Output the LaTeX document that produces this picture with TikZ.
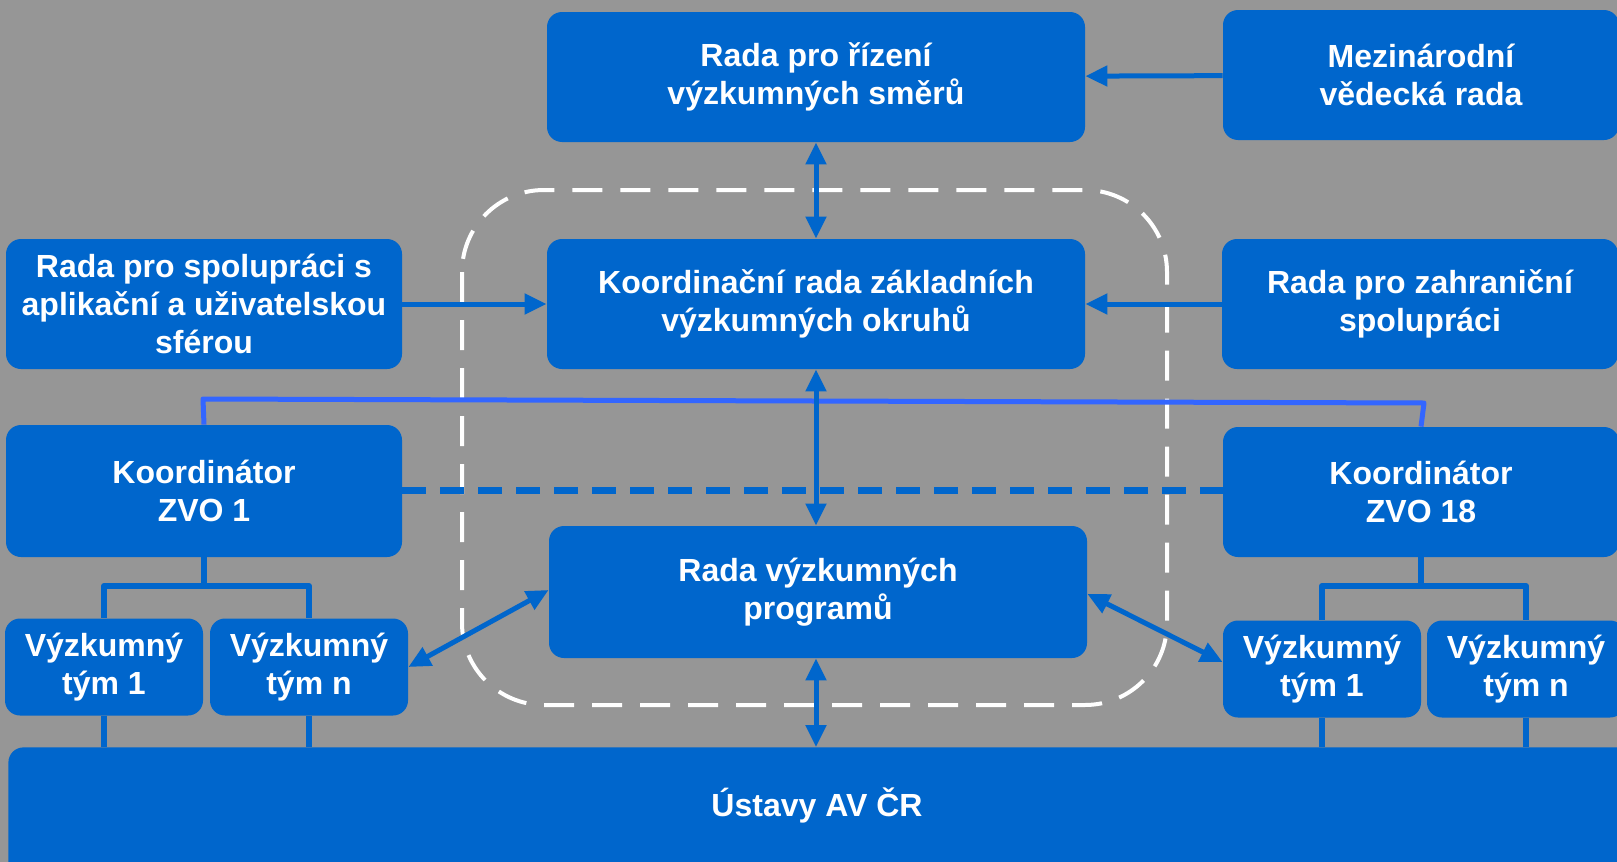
\documentclass[tikz,border=0pt]{standalone}
\usepackage{fontspec}
\setmainfont{Liberation Sans}
\usetikzlibrary{arrows.meta}
\definecolor{boxblue}{HTML}{0066CC}
\definecolor{lineblue}{HTML}{3366FF}
\definecolor{bggray}{HTML}{969696}
\begin{document}
\begin{tikzpicture}[x=0.5pt,y=-0.5pt,line join=round,
 box/.style={fill=boxblue,rounded corners=7.5pt,text=white,align=center,inner sep=0pt,
  font=\fontsize{16pt}{19pt}\selectfont\bfseries},
 wide/.style={box,minimum width=269pt,minimum height=65pt},
 side/.style={box,minimum width=198pt,minimum height=65pt},
 team/.style={box,minimum width=99pt,minimum height=48.5pt},
 conn/.style={boxblue,line width=2.5pt},
 tip/.style={-{Triangle[length=11pt,width=10pt]}},
 both/.style={{Triangle[length=11pt,width=10pt]}-{Triangle[length=11pt,width=10pt]}}]
 \useasboundingbox (0,0) rectangle (1617,862);
 \fill[bggray] (0,0) rectangle (1617,862);
 \draw[white,line width=2pt,dash pattern=on 15pt off 9pt,rounded corners=41pt] (462,190) rectangle (1167,705);
 \node[wide] (rizeni) at (816,77) {Rada pro řízení\\výzkumných směrů};
 \node[side] (mezi) at (1421,75) {Mezinárodní\\vědecká rada};
 \node[side] (spoluprace) at (204,304) {Rada pro spolupráci s\\aplikační a uživatelskou\\sférou};
 \node[wide] (koord) at (816,304) {Koordinační rada základních\\výzkumných okruhů};
 \node[side] (zahranici) at (1420,304) {Rada pro zahraniční\\spolupráci};
 \node[side,minimum height=66pt] (zvo1) at (204,491) {Koordinátor\\ZVO 1};
 \node[side] (zvo18) at (1421,492) {Koordinátor\\ZVO 18};
 \node[wide,minimum height=66pt] (programy) at (818,592) {Rada výzkumných\\programů};
 \node[team] (tym1L) at (104,667) {Výzkumný\\tým 1};
 \node[team] (tymnL) at (309,667) {Výzkumný\\tým n};
 \node[team] (tym1R) at (1322,669) {Výzkumný\\tým 1};
 \node[team] (tymnR) at (1526,669) {Výzkumný\\tým n};
 \node[box,minimum width=816pt,minimum height=66pt,anchor=north west] (ustavy) at (8,747) {};
 \node[text=white,font=\fontsize{16pt}{19pt}\selectfont\bfseries] (ustavytxt) at (817,805) {Ústavy AV ČR};
 \draw[lineblue,line width=2.5pt] (zvo1.north) -- (203,399) -- (1424,403) -- (zvo18.north);
 \draw[conn,line width=3.5pt,dash pattern=on 12pt off 7pt] (zvo1.east |- 0,490) -- (zvo18.west |- 0,490);
 \draw[conn,line width=3pt] (zvo1.south) -- (204,586) -| (tymnL.north) (204,586) -| (tym1L.north);
 \draw[conn,line width=3pt] (zvo18.south) -- (1421,586) -| (tymnR.north) (1421,586) -| (tym1R.north);
 \draw[conn,line width=3pt] (tym1L.south) -- (tym1L.south |- ustavy.north) (tymnL.south) -- (tymnL.south |- ustavy.north);
 \draw[conn,line width=3pt] (tym1R.south) -- (tym1R.south |- ustavy.north) (tymnR.south) -- (tymnR.south |- ustavy.north);
 \draw[conn,tip] (mezi) -- (rizeni);
 \draw[conn,tip] (spoluprace) -- (koord);
 \draw[conn,tip] (zahranici) -- (koord);
 \draw[conn,both] (rizeni) -- (koord);
 \draw[conn,both] (koord) -- (programy.north -| koord);
 \draw[conn,both] (programy.south -| koord) -- (ustavy.north -| koord);
 \draw[conn,both] (tymnL.east) -- (programy.west |- 0,590);
 \draw[conn,both] (programy.east |- 0,594) -- (tym1R.west |- 0,662);
\end{tikzpicture}
\end{document}
